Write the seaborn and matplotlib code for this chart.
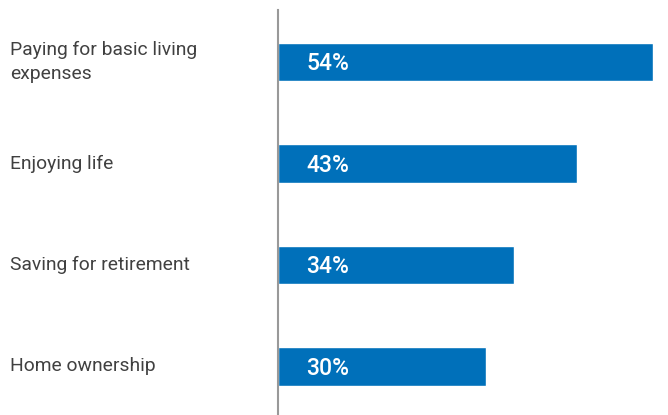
import matplotlib
matplotlib.use("Agg")
import matplotlib.pyplot as plt
import matplotlib.transforms as mtransforms
import seaborn as sns
import pandas as pd

categories = ["Paying for basic living\nexpenses", "Enjoying life",
              "Saving for retirement", "Home ownership"]
values = [54, 43, 34, 30]
value_labels = ["54%", "43%", "34%", "30%"]

BLUE = "#0070BA"
TEXT = "#404040"

sns.set_theme(style="white")
plt.rcParams["font.family"] = ["Roboto", "DejaVu Sans"]

df = pd.DataFrame({"category": categories, "value": values})

fig = plt.figure(figsize=(6.68, 4.15), dpi=100)
W, H = 668, 415
ax = fig.add_axes([278 / W, 0, (653 - 278) / W, (415 - 10) / H])

sns.barplot(data=df, y="category", x="value", orient="h", color=BLUE,
            width=0.38, saturation=1, ax=ax)

ax.set_xlim(0, 54)
ax.set_ylim(3.478, -0.512)
ax.set_xlabel("")
ax.set_ylabel("")
ax.set_xticks([])
ax.set_yticks([])
for s in ["top", "right", "bottom"]:
    ax.spines[s].set_visible(False)
ax.spines["left"].set_color("#999999")
ax.spines["left"].set_linewidth(1.5)
ax.spines["left"].set_zorder(5)

# category names aligned at the left edge of the figure
trans = mtransforms.blended_transform_factory(fig.transFigure, ax.transData)
for i, cat in enumerate(categories):
    ax.text(10 / W, i, cat, transform=trans, ha="left", va="center",
            fontsize=13.9, color=TEXT, linespacing=1.38, fontweight="normal")

# value labels inside the bars
for i, lab in enumerate(value_labels):
    ax.annotate(lab, xy=(0, i), xytext=(28, -2), textcoords="offset pixels",
                ha="left", va="center", fontsize=16.5, color="white",
                fontweight="medium")

fig.savefig("out.png", dpi=100)
